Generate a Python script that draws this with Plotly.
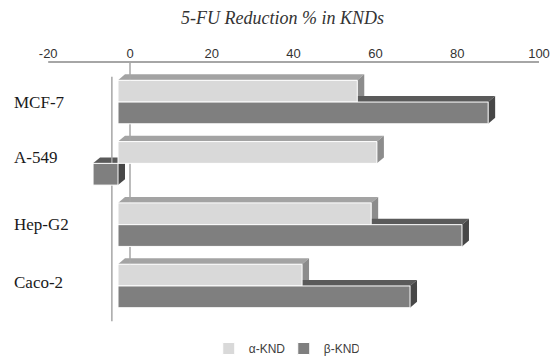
import plotly.graph_objects as go

categories = ["MCF-7", "A-549", "Hep-G2", "Caco-2"]
alpha_vals = [58.5, 63.3, 61.9, 45.0]
beta_vals = [90.5, -6.1, 84.1, 71.4]
series_names = ["α-KND", "β-KND"]
tick_vals = [-20, 0, 20, 40, 60, 80, 100]
tick_text = ["-20", "0", "20", "40", "60", "80", "100"]

W, H = 551, 363
ML, MR, MT, MB = 0, 0, 62, 33
PX_PER_UNIT = 4.09
FRONT_ZERO_PX = 118
BACK_ZERO_PX = 130
PITCH = 62.0
FIRST_CENTER_PX = 102.5
BAR_W = 22 / PITCH  # one bar in category units
DX = 7 / PX_PER_UNIT  # depth offset in x units
DY = 6 / PITCH        # depth offset in y units

plot_w = W - ML - MR
plot_h = H - MT - MB
x_r0 = -FRONT_ZERO_PX / PX_PER_UNIT
x_range = [x_r0, x_r0 + plot_w / PX_PER_UNIT]
x2_r0 = -BACK_ZERO_PX / PX_PER_UNIT
x2_range = [x2_r0, x2_r0 + plot_w / PX_PER_UNIT]
y_top = -(FIRST_CENTER_PX - MT) / PITCH
y_bot = y_top + plot_h / PITCH

front_cols = ["#d9d9d9", "#7f7f7f"]
top_cols = ["#a3a3a3", "#5a5a5a"]
side_cols = ["#8c8c8c", "#474747"]

fig = go.Figure()
for k, (name, vals) in enumerate(zip(series_names, [alpha_vals, beta_vals])):
    fig.add_trace(go.Bar(
        y=categories, x=vals, name=name, orientation="h",
        marker=dict(color=front_cols[k], line=dict(color="white", width=1)),
    ))

shapes = []
for k, vals in enumerate([alpha_vals, beta_vals]):
    for i, v in enumerate(vals):
        yt = i - BAR_W + k * BAR_W
        yb = yt + BAR_W
        x0, x1 = min(0, v), max(0, v)
        top_path = (f"M {x0} {yt} L {x1} {yt} L {x1 + DX} {yt - DY} "
                    f"L {x0 + DX} {yt - DY} Z")
        side_path = (f"M {x1} {yt} L {x1 + DX} {yt - DY} L {x1 + DX} {yb - DY} "
                     f"L {x1} {yb} Z")
        shapes.append(dict(type="path", path=top_path, xref="x", yref="y",
                           fillcolor=top_cols[k], line=dict(width=0), layer="below"))
        shapes.append(dict(type="path", path=side_path, xref="x", yref="y",
                           fillcolor=side_cols[k], line=dict(width=0), layer="below"))

# back-wall zero gridline
shapes.append(dict(type="line", xref="x2", yref="y", x0=0, x1=0,
                   y0=y_top, y1=len(categories) - 1 + BAR_W - 0.2,
                   line=dict(color="#a6a6a6", width=1.5), layer="below"))
# top value axis line
shapes.append(dict(type="line", xref="x2", yref="paper", x0=tick_vals[0], x1=tick_vals[-1],
                   y0=1, y1=1, line=dict(color="#a6a6a6", width=2)))
# front vertical axis line
shapes.append(dict(type="line", xref="x", yref="y", x0=-1.5, x1=-1.5,
                   y0=y_top + 0.24, y1=y_top + 4.23,
                   line=dict(color="#a6a6a6", width=1.5), layer="below"))

annotations = [dict(text="5-FU Reduction % in KNDs", xref="paper", yref="paper",
                    x=282 / W, y=(H - MB - 18) / plot_h,
                    xanchor="center", yanchor="middle", showarrow=False,
                    font=dict(family="Liberation Serif", size=18, color="#333333",
                              style="italic"))]
label_shift = [0, 6, 0, 3]
for c, s in zip(categories, label_shift):
    annotations.append(dict(text=c, xref="paper", yref="y", x=12 / W, y=c, yshift=s,
                            xanchor="left", yanchor="middle", showarrow=False,
                            font=dict(family="Liberation Serif", size=17, color="#1a1a1a")))

fig.update_layout(
    width=W, height=H,
    margin=dict(l=ML, r=MR, t=MT, b=MB),
    paper_bgcolor="white", plot_bgcolor="white",
    barmode="group", bargap=1 - 2 * BAR_W, bargroupgap=0,
    shapes=shapes, annotations=annotations,
    xaxis=dict(range=x_range, visible=False, fixedrange=True),
    xaxis2=dict(range=x2_range, overlaying="x", side="top", tickvals=tick_vals,
                ticktext=tick_text,
                showgrid=False, zeroline=False, showline=False, ticks="",
                tickfont=dict(family="Liberation Sans", size=13, color="#333333")),
    yaxis=dict(range=[y_bot, y_top], visible=False, type="category"),
    legend=dict(orientation="h", x=0.515, xanchor="center",
                y=-(352 - (H - MB)) / plot_h, yanchor="middle",
                traceorder="normal", itemwidth=30,
                entrywidth=30, entrywidthmode="pixels",
                font=dict(family="Liberation Sans", size=12, color="#404040")),
    showlegend=True,
)
fig.write_html("out.html")
